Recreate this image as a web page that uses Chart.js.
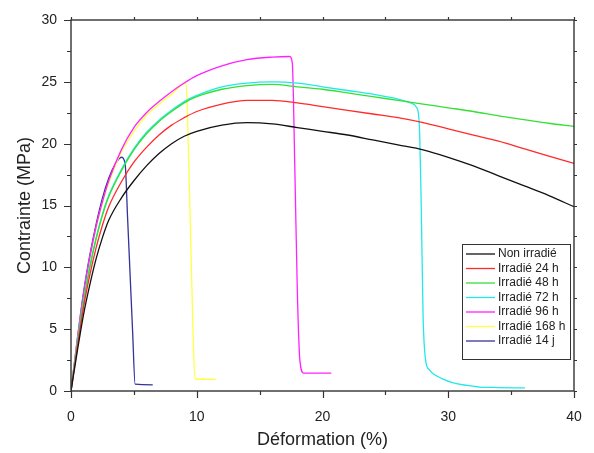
<!DOCTYPE html>
<html>
<head>
<meta charset="utf-8">
<script src="https://cdn.jsdelivr.net/npm/chart.js@4.4.1/dist/chart.umd.min.js"></script>
<style>
  html, body { margin: 0; padding: 0; background: #fff; }
</style>
</head>
<body>
<canvas id="chart" width="594" height="453"></canvas>
<script>
// data: strain (%) and stress (MPa) per sample
const seriesNames = ["Non irradié", "Irradié 24 h", "Irradié 48 h", "Irradié 72 h", "Irradié 96 h", "Irradié 168 h", "Irradié 14 j"]

const strainNon = [0, 0.5, 1, 1.5, 2, 2.5, 3, 4, 5, 6, 7, 8, 9, 10, 12, 14, 16, 18, 20, 22, 24, 26, 28, 30, 32, 34, 36, 38, 40]
const stressNon = [0, 3.2, 6.2, 8.6, 10.7, 12.4, 13.8, 15.6, 17.0, 18.2, 19.2, 20.0, 20.6, 21.0, 21.5, 21.7, 21.6, 21.3, 21.0, 20.7, 20.3, 19.9, 19.5, 18.9, 18.2, 17.4, 16.6, 15.8, 14.9]

const strain24 = [0, 0.5, 1, 1.5, 2, 2.5, 3, 4, 5, 6, 7, 8, 9, 10, 12, 14, 16, 18, 20, 22, 24, 26, 28, 30, 32, 34, 36, 38, 40]
const stress24 = [0, 3.5, 6.8, 9.4, 11.6, 13.4, 14.9, 16.9, 18.5, 19.7, 20.7, 21.5, 22.1, 22.6, 23.2, 23.5, 23.5, 23.3, 23.0, 22.7, 22.4, 22.1, 21.7, 21.2, 20.7, 20.2, 19.6, 19.0, 18.4]

const strain48 = [0, 0.5, 1, 1.5, 2, 2.5, 3, 4, 5, 6, 7, 8, 9, 10, 12, 14, 16, 18, 20, 22, 24, 26, 28, 30, 32, 34, 36, 38, 40]
const stress48 = [0, 3.7, 7.2, 10.0, 12.3, 14.2, 15.7, 17.8, 19.5, 20.8, 21.8, 22.6, 23.3, 23.8, 24.4, 24.7, 24.8, 24.6, 24.4, 24.1, 23.8, 23.5, 23.2, 22.9, 22.6, 22.25, 21.95, 21.65, 21.4]

const strain72 = [0, 0.5, 1, 1.5, 2, 2.5, 3, 4, 5, 6, 7, 8, 9, 10, 12, 14, 16, 18, 20, 22, 24, 26, 27, 27.5, 27.7, 27.85, 28.0, 28.2, 28.5, 28.8, 29.5, 30.4, 31.5, 32.5, 34, 36.1]
const stress72 = [0, 3.8, 7.3, 10.1, 12.4, 14.3, 15.8, 17.9, 19.6, 20.9, 21.9, 22.7, 23.4, 23.9, 24.6, 24.9, 25.0, 24.9, 24.6, 24.3, 24.0, 23.6, 23.3, 22.9, 21.5, 15, 6, 2.5, 1.7, 1.4, 1.0, 0.65, 0.45, 0.32, 0.28, 0.25]

const strain96 = [0, 0.5, 1, 1.5, 2, 2.5, 3, 4, 5, 6, 7, 8, 9, 10, 12, 14, 16, 17.4, 17.6, 17.8, 18.0, 18.2, 18.5, 20.7]
const stress96 = [0, 4.0, 7.8, 10.8, 13.3, 15.3, 17.0, 19.5, 21.3, 22.5, 23.4, 24.2, 24.9, 25.5, 26.3, 26.8, 27.0, 27.05, 26.5, 18, 8, 2.5, 1.45, 1.45]

const strain168 = [0, 0.5, 1, 1.5, 2, 2.5, 3, 4, 5, 6, 7, 8, 9.15, 9.3, 9.5, 9.7, 9.86, 11.5]
const stress168 = [0, 4.0, 7.7, 10.7, 13.2, 15.2, 16.8, 19.3, 21.0, 22.3, 23.2, 24.0, 24.9, 21, 13, 5, 0.95, 0.95]

const strain14j = [0, 0.5, 1, 1.5, 2, 2.5, 3, 3.5, 4.0, 4.3, 4.5, 4.7, 4.9, 5.1, 6.5]
const stress14j = [0, 4.2, 8.0, 11.0, 13.5, 15.6, 17.2, 18.3, 18.9, 18.4, 14, 9.4, 4.8, 0.55, 0.5]

const xTicks = [0, 10, 20, 30, 40]
const yTicks = [0, 5, 10, 15, 20, 25, 30]

const colors = ["#111111", "#ff2a2a", "#33e033", "#22e8e8", "#ff22ff", "#ffff44", "#333399"]

const toPoints = (xs, ys) => xs.map((x, i) => ({ x, y: ys[i] }))

const allSeries = [
    [strainNon, stressNon],
    [strain24, stress24],
    [strain48, stress48],
    [strain72, stress72],
    [strain96, stress96],
    [strain168, stress168],
    [strain14j, stress14j]
]

const FONT = "'Liberation Sans', Arial, sans-serif"

// box around plot + outside ticks, major and minor
const frameTicks = {
    id: 'frameTicks',
    afterDraw(chart) {
        const { ctx, chartArea: a, scales: { x, y } } = chart
        ctx.save()
        ctx.strokeStyle = '#333'
        ctx.lineWidth = 1.4
        ctx.strokeRect(a.left, a.top, a.right - a.left, a.bottom - a.top)
        ctx.lineWidth = 1.2
        ctx.beginPath()
        for (let v = 0; v <= 40; v += 5) {
            const px = Math.round(x.getPixelForValue(v)) + 0.5
            const len = v % 10 === 0 ? 7 : 4
            ctx.moveTo(px, a.bottom); ctx.lineTo(px, a.bottom + len)
            ctx.moveTo(px, a.top); ctx.lineTo(px, a.top - 3)
        }
        for (let v = 0; v <= 30; v += 2.5) {
            const py = Math.round(y.getPixelForValue(v)) + 0.5
            const len = v % 5 === 0 ? 7 : 4
            ctx.moveTo(a.left, py); ctx.lineTo(a.left - len, py)
            ctx.moveTo(a.right, py); ctx.lineTo(a.right + 3, py)
        }
        ctx.stroke()
        ctx.restore()
    }
}

// legend box inside the plot, bottom right
const boxLegend = {
    id: 'boxLegend',
    afterDraw(chart) {
        const { ctx } = chart
        const left = 462, top = 244, w = 108, h = 115
        ctx.save()
        ctx.fillStyle = '#fff'
        ctx.fillRect(left, top, w, h)
        ctx.strokeStyle = '#333'
        ctx.lineWidth = 1
        ctx.strokeRect(left + 0.5, top + 0.5, w, h)
        ctx.font = "12px " + FONT
        ctx.textBaseline = 'middle'
        chart.data.datasets.forEach((ds, i) => {
            const yy = top + 10 + i * 14.5
            ctx.strokeStyle = ds.borderColor
            ctx.lineWidth = 1.3
            ctx.beginPath()
            ctx.moveTo(left + 4, yy); ctx.lineTo(left + 33, yy)
            ctx.stroke()
            ctx.fillStyle = '#222'
            ctx.fillText(ds.label, left + 36, yy)
        })
        ctx.restore()
    }
}

new Chart(document.getElementById('chart'), {
    type: 'scatter',
    data: {
        datasets: allSeries.map(([xs, ys], i) => ({
            label: seriesNames[i],
            data: toPoints(xs, ys),
            showLine: true,
            borderColor: colors[i],
            backgroundColor: colors[i],
            borderWidth: 1.3,
            pointRadius: 0,
            cubicInterpolationMode: 'monotone'
        }))
    },
    options: {
        responsive: false,
        animation: false,
        layout: { padding: { left: 0, right: 20, top: 20, bottom: 0 } },
        plugins: { legend: { display: false }, tooltip: { enabled: false } },
        scales: {
            x: {
                type: 'linear', min: 0, max: 40,
                afterFit: (s) => { s.height = 62 },
                afterBuildTicks: (s) => { s.ticks = xTicks.map(v => ({ value: v })) },
                grid: { display: false },
                border: { display: false },
                ticks: { padding: 10, color: '#222', font: { family: FONT, size: 14 } },
                title: { display: true, text: 'Déformation (%)', color: '#222', font: { family: FONT, size: 18 }, padding: { top: 4, bottom: 2 } }
            },
            y: {
                type: 'linear', min: 0, max: 30,
                afterFit: (s) => { s.width = 71 },
                afterBuildTicks: (s) => { s.ticks = yTicks.map(v => ({ value: v })) },
                grid: { display: false },
                border: { display: false },
                ticks: { padding: 6, color: '#222', font: { family: FONT, size: 14 } },
                title: { display: true, text: 'Contrainte (MPa)', color: '#222', font: { family: FONT, size: 18 }, padding: { top: 14, bottom: 4 } }
            }
        }
    },
    plugins: [frameTicks, boxLegend]
})
</script>
</body>
</html>
